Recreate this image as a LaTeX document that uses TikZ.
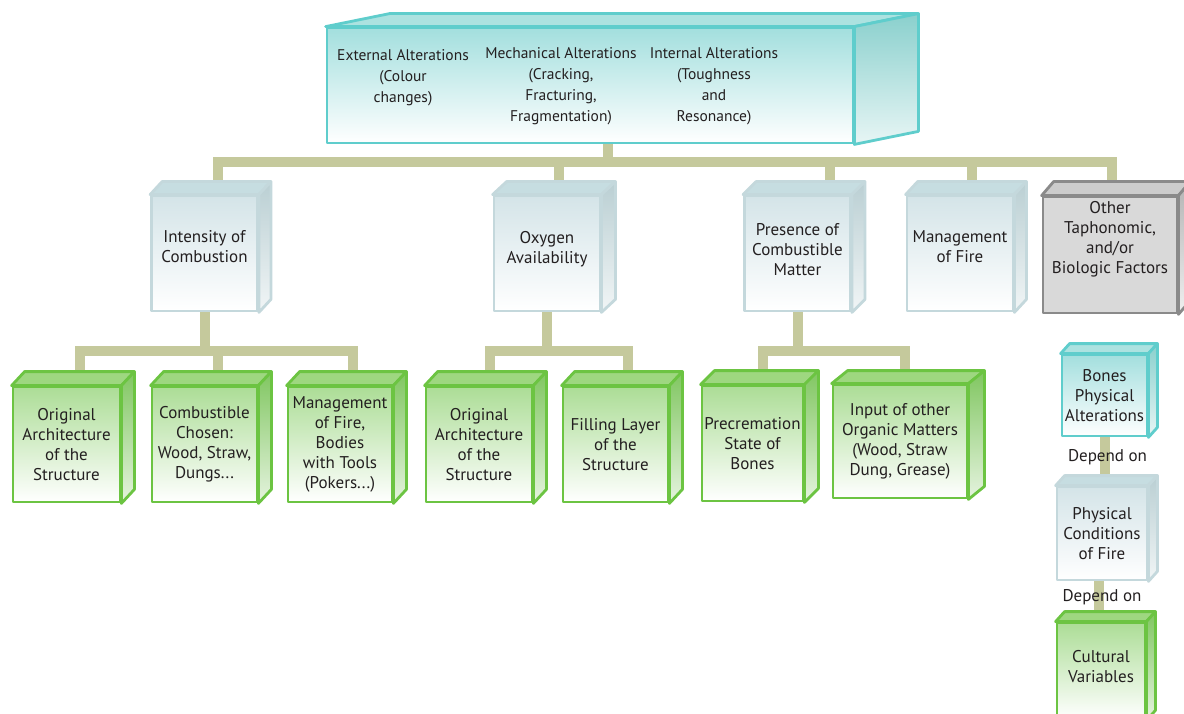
\documentclass[tikz,border=0pt]{standalone}
\usepackage{fontspec}
\setmainfont{PT Sans}
\usetikzlibrary{backgrounds}

\definecolor{barcol}{RGB}{197,201,156}
\definecolor{textcol}{RGB}{35,31,32}
\definecolor{tealline}{RGB}{95,205,204}
\definecolor{tealfront}{RGB}{163,223,222}
\definecolor{tealtop}{RGB}{172,226,224}
\definecolor{tealside}{RGB}{138,208,205}
\definecolor{blueline}{RGB}{196,216,220}
\definecolor{bluefront}{RGB}{212,228,232}
\definecolor{bluetop}{RGB}{198,221,225}
\definecolor{blueside}{RGB}{186,207,211}
\definecolor{greyline}{RGB}{138,138,138}
\definecolor{greyfront}{RGB}{217,217,217}
\definecolor{greytop}{RGB}{204,204,204}
\definecolor{greyside}{RGB}{180,180,180}
\definecolor{greenline}{RGB}{108,196,66}
\definecolor{greenfront}{RGB}{172,221,150}
\definecolor{greentop}{RGB}{158,215,128}
\definecolor{greenside}{RGB}{128,198,96}

\tikzstyle{cube} = [rectangle, text centered, align=center, inner sep=0pt, line width=2.8pt, line join=round, text=textcol]
\tikzstyle{tealcube} = [cube, draw=tealline, top color=tealfront, bottom color=white]
\tikzstyle{bluecube} = [cube, draw=blueline, top color=bluefront, bottom color=white, minimum width=106pt, minimum height=115pt]
\tikzstyle{greycube} = [cube, draw=greyline, fill=greyfront]
\tikzstyle{greencube} = [cube, draw=greenline, top color=greenfront, bottom color=white, minimum height=115pt]
\tikzstyle{caption} = [align=center, text=textcol, font=\fontsize{15.5}{21}\selectfont]
\tikzstyle{bar} = [line width=10pt, draw=barcol]

% depth faces of a box node: node, dx, dy, colour prefix
\newcommand{\cubefaces}[4]{%
  \draw[line width=2.8pt, line join=round, draw=#4line, fill=#4top]
    (#1.north west) -- ++(#2,#3) -- ([shift={(#2,#3)}]#1.north east) -- (#1.north east) -- cycle;
  \draw[line width=2.8pt, line join=round, draw=#4line, top color=#4side, bottom color=#4side!20]
    (#1.north east) -- ++(#2,#3) -- ([shift={(#2,#3)}]#1.south east) -- (#1.south east) -- cycle;
}

\begin{document}
\begin{tikzpicture}[x=1pt, y=-1pt, font=\fontsize{17}{20}\selectfont]
\clip (0,0) rectangle (1184,714);

% top box
\node (alter) [tealcube, minimum width=526pt, minimum height=115pt] at (590,85.5) {};
\cubefaces{alter}{64}{-13}{teal}
\node (ext) [caption, anchor=north] at (403,46) {External Alterations\\(Colour\\changes)};
\node (mech) [caption, anchor=north] at (561,44) {Mechanical Alterations\\(Cracking,\\Fracturing,\\Fragmentation)};
\node (intl) [caption, anchor=north] at (714,44) {Internal Alterations\\(Toughness\\and\\Resonance)};

% factors
\node (int) [bluecube] at (204.5,253.5) {Intensity of\\Combustion\\[-5pt]};
\cubefaces{int}{12}{-13}{blue}
\node (oxy) [bluecube] at (547,253.5) {Oxygen\\Availability\\[-8pt]};
\cubefaces{oxy}{14}{-13}{blue}
\node (pres) [bluecube] at (797.5,253.5) {Presence of\\Combustible\\Matter\\[-11pt]};
\cubefaces{pres}{13}{-13}{blue}
\node (mgmt) [bluecube] at (960,253.5) {Management\\of Fire\\[-7pt]};
\cubefaces{mgmt}{12}{-13}{blue}
\node (other) [greycube, minimum width=134pt, minimum height=116pt] at (1110,255) {Other\\Taphonomic,\\and/or\\Biologic Factors\\[16pt]};
\cubefaces{other}{12}{-14}{grey}

% cultural variables
\node (arch) [greencube, minimum width=107pt] at (66.5,444.5) {Original\\Architecture\\of the\\Structure};
\cubefaces{arch}{13}{-14}{green}
\node (comb) [greencube, minimum width=105pt] at (204.5,444.5) {Combustible\\Chosen:\\Wood, Straw,\\Dungs...};
\cubefaces{comb}{13}{-14}{green}
\node (tools) [greencube, minimum width=104pt] at (340,444.5) {Management\\of Fire,\\Bodies\\with Tools\\(Pokers...)};
\cubefaces{tools}{13}{-14}{green}
\node (archb) [greencube, minimum width=106pt] at (479,444.5) {Original\\Architecture\\of the\\Structure};
\cubefaces{archb}{13}{-14}{green}
\node (fill) [greencube, minimum width=105pt] at (615.5,444.5) {Filling Layer\\of the\\Structure};
\cubefaces{fill}{13}{-14}{green}
\node (prec) [greencube, minimum width=101pt] at (752.5,443.5) {Precremation\\State of\\Bones};
\cubefaces{prec}{14}{-14}{green}
\node (input) [greencube, minimum width=134pt, minimum height=113pt] at (900,441.5) {Input of other\\Organic Matters\\(Wood, Straw\\Dung, Grease)};
\cubefaces{input}{16}{-13}{green}

% legend column
\node (bones) [tealcube, minimum width=85pt, minimum height=81pt] at (1104.5,395.5) {Bones\\Physical\\Alterations};
\cubefaces{bones}{9}{-10}{teal}
\node (phys) [bluecube, minimum width=90pt, minimum height=93pt] at (1102,533.5) {Physical\\Conditions\\of Fire};
\cubefaces{phys}{9}{-10}{blue}
\node (cult) [greencube, minimum width=88pt, minimum height=96pt] at (1101,671) {Cultural\\Variables\\[-10pt]};
\cubefaces{cult}{9}{-10}{green}

\begin{pgfonlayer}{background}
\coordinate (railA) at (0,162);
\coordinate (railB) at (0,351);
\draw[bar] ([xshift=18pt]alter.south) -- ([xshift=18pt]alter.south |- railA);
\draw[bar] ([xshift=13pt]int.north) |- ([xshift=2pt]other.north |- railA) -- ([xshift=2pt]other.north);
\foreach \n/\dx in {oxy/12, pres/32, mgmt/12}
  \draw[bar] ([xshift=\dx pt]\n.north) -- ([xshift=\dx pt]\n.north |- railA);

\draw[bar] (int.south) -- (int.south |- railB);
\draw[bar] ([xshift=13pt]arch.north) |- ([xshift=13pt]tools.north |- railB) -- ([xshift=13pt]tools.north);
\draw[bar] ([xshift=13pt]comb.north) -- ([xshift=13pt]comb.north |- railB);

\draw[bar] (oxy.south) -- (oxy.south |- railB);
\draw[bar] ([xshift=11pt]archb.north) |- ([xshift=12pt]fill.north |- railB) -- ([xshift=12pt]fill.north);

\draw[bar] (pres.south) -- (pres.south |- railB);
\draw[bar] ([xshift=10pt]prec.north) |- ([xshift=5pt]input.north |- railB) -- ([xshift=5pt]input.north);

\draw[bar] (bones.south) -- node (dep1) [text=textcol, xshift=3pt, yshift=4pt] {Depend on} (bones.south |- phys.north);
\draw[bar] ([xshift=-3pt]phys.south) -- node (dep2) [text=textcol, xshift=3pt, yshift=4pt] {Depend on} ([xshift=-3pt]phys.south |- cult.north);
\end{pgfonlayer}

\end{tikzpicture}
\end{document}
